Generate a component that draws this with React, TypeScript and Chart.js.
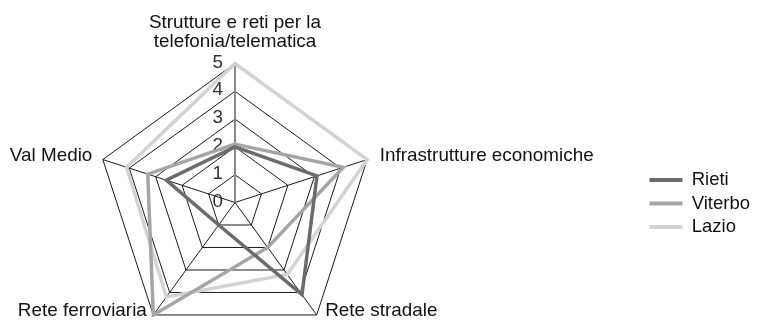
import { useEffect, useRef } from 'react';
import { Chart, registerables } from 'chart.js';

Chart.register(...registerables);

// ---- data ----
const axisLabels: string[][] = [
  ['Strutture e reti per la', 'telefonia/telematica'],
  ['Infrastrutture economiche'],
  ['Rete stradale'],
  ['Rete ferroviaria'],
  ['Val Medio'],
];
const seriesNames = ['Rieti', 'Viterbo', 'Lazio'];
const rieti = [2.0, 3.1, 4.1, 1.0, 2.6];
const viterbo = [2.1, 4.1, 2.0, 5.0, 3.3];
const lazio = [5.0, 5.0, 3.2, 4.2, 4.1];
const tickValues = [0, 1, 2, 3, 4, 5];

// ---- style / layout ----
const colors = ['#6b6b6b', '#a5a5a5', '#d3d3d3'];
const FONT_FAMILY = '"Liberation Sans", Arial, Helvetica, sans-serif';
const FONT_SIZE = 18.5;
const SCALE_X = 1.02;
const CX = 235;
const CY = 202.5;
const RADIUS = 139;

function drawText(
  ctx: CanvasRenderingContext2D,
  text: string,
  x: number,
  y: number,
  align: CanvasTextAlign,
  baseline: CanvasTextBaseline,
  color: string
) {
  ctx.save();
  ctx.translate(x, y);
  ctx.scale(SCALE_X, 1);
  ctx.font = `${FONT_SIZE}px ${FONT_FAMILY}`;
  ctx.fillStyle = color;
  ctx.textAlign = align;
  ctx.textBaseline = baseline;
  ctx.fillText(text, 0, 0);
  ctx.restore();
}

const geometryPlugin = {
  id: 'geometry',
  afterLayout(chart: any) {
    const s = chart.scales.r;
    s.xCenter = CX;
    s.yCenter = CY;
    s.drawingArea = RADIUS;
  },
};

const tickTextPlugin = {
  id: 'tickText',
  beforeDatasetsDraw(chart: any) {
    const s = chart.scales.r;
    const ctx = chart.ctx as CanvasRenderingContext2D;
    tickValues.forEach((v) => {
      const d = s.getDistanceFromCenterForValue(v);
      drawText(ctx, String(v), s.xCenter - 12, s.yCenter - d - 1, 'right', 'middle', '#333333');
    });
  },
};

const pointLabelPlugin = {
  id: 'pointLabelText',
  afterDatasetsDraw(chart: any) {
    const s = chart.scales.r;
    const ctx = chart.ctx as CanvasRenderingContext2D;
    const R = s.drawingArea;
    axisLabels.forEach((lines, i) => {
      const p = s.getPointPosition(i, R + 11);
      const dx = p.x - s.xCenter;
      const dy = p.y - s.yCenter;
      const align: CanvasTextAlign = Math.abs(dx) < 1 ? 'center' : dx > 0 ? 'left' : 'right';
      const x = p.x + (dx > 1 ? 2 : 0);
      if (dy < -R * 0.9) {
        lines.forEach((ln, k) => {
          drawText(ctx, ln, x, p.y - 6 - (lines.length - 1 - k) * 19, align, 'alphabetic', '#111111');
        });
      } else if (Math.abs(dy) < R * 0.5) {
        drawText(ctx, lines.join(' '), x, p.y, align, 'middle', '#111111');
      } else {
        drawText(ctx, lines.join(' '), x, p.y - 8, align, 'alphabetic', '#111111');
      }
    });
  },
};

export default function App() {
  const canvasRef = useRef<HTMLCanvasElement | null>(null);

  useEffect(() => {
    if (!canvasRef.current) return;
    const seriesData = [rieti, viterbo, lazio];
    const chart = new Chart(canvasRef.current, {
      type: 'radar',
      data: {
        labels: axisLabels,
        datasets: seriesNames.map((name, i) => ({
          label: name,
          data: seriesData[i],
          borderColor: colors[i],
          backgroundColor: colors[i],
          borderWidth: 3.5,
          borderJoinStyle: 'miter' as const,
          pointRadius: 0,
          pointHoverRadius: 0,
          fill: false,
          tension: 0,
        })),
      },
      options: {
        animation: false,
        responsive: true,
        maintainAspectRatio: false,
        layout: { padding: { top: 82, right: 0, left: 0, bottom: 0 } },
        scales: {
          r: {
            min: 0,
            max: 5,
            beginAtZero: true,
            ticks: { display: false, stepSize: 1 },
            pointLabels: { display: false },
            grid: { color: '#1a1a1a', lineWidth: 1, circular: false },
            angleLines: {
              display: true,
              color: (c: any) => (c.index === 0 ? '#8a8a8a' : '#1a1a1a'),
              lineWidth: (c: any) => (c.index === 0 ? 2 : 1),
            },
          },
        },
        plugins: {
          tooltip: { enabled: false },
          legend: {
            display: true,
            position: 'right',
            align: 'center',
            labels: {
              boxWidth: 33,
              boxHeight: 4,
              padding: 5,
              color: '#111111',
              font: { size: FONT_SIZE, family: FONT_FAMILY },
              generateLabels: (c: any) =>
                Chart.defaults.plugins.legend.labels
                  .generateLabels(c)
                  .map((l: any) => ({ ...l, lineWidth: 0, fillStyle: l.strokeStyle })),
            },
          },
        },
      },
      plugins: [geometryPlugin, tickTextPlugin, pointLabelPlugin],
    } as any);
    return () => chart.destroy();
  }, []);

  return (
    <div style={{ width: 760, height: 325, margin: -8, position: 'relative' }}>
      <canvas ref={canvasRef} />
    </div>
  );
}
